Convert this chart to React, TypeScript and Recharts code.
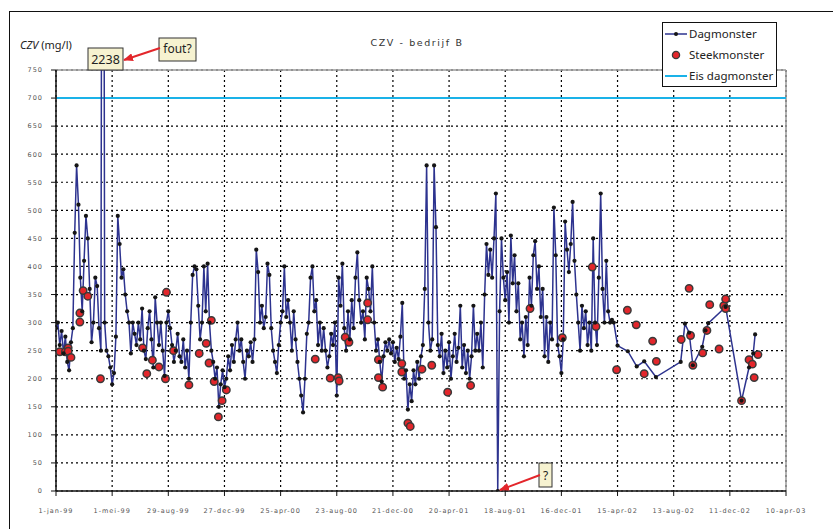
import React from "react";
import { ComposedChart, Line, Scatter, XAxis, YAxis, CartesianGrid, ReferenceLine, Legend } from "recharts";

// x = days since 1-jan-99, ticks every 120 days
const TICK_DAYS = [0, 120, 240, 360, 480, 600, 720, 840, 960, 1080, 1200, 1320, 1440, 1560];
const TICK_LABELS = ["1-jan-99", "1-mei-99", "29-aug-99", "27-dec-99", "25-apr-00", "23-aug-00", "21-dec-00", "20-apr-01", "18-aug-01", "16-dec-01", "15-apr-02", "13-aug-02", "11-dec-02", "10-apr-03"];
const Y_TICKS = [0, 50, 100, 150, 200, 250, 300, 350, 400, 450, 500, 550, 600, 650, 700, 750];
const EIS_DAG = 700;

const DAG_STEP = 4;
const dag1999 = [
  290, 300, 260, 285, 245, 275, 230, 215, 265, 290,
  460, 580, 510, 380, 320, 410, 490, 450, 360, 265,
  300, 380, 365, 290, 250, 2238, 300, 250, 240, 220,
  190, 210, 275, 490, 440, 380, 395, 350, 320, 300,
  245, 300, 280, 260, 300, 270, 325, 250, 235, 290,
  320, 270, 220, 345, 300, 260, 300, 250, 205, 300,
  320, 290, 260, 230, 250, 280, 240, 230, 270, 220,
  250, 200, 300, 385, 400,
];
const dag2000 = [
  395, 330, 270, 300, 400, 320, 405, 300, 250, 230,
  200, 220, 150, 190, 215, 185, 200, 240, 215, 260,
  230, 270, 300, 250, 270, 230, 200, 250, 240, 265,
  230, 270, 430, 390, 300, 330, 290, 310, 405, 385,
  290, 250, 230, 210, 260, 300, 320, 400, 310, 340,
  300, 250, 320, 270, 230, 200, 170, 140, 200, 280,
  300, 380, 400, 320, 340, 260, 300, 250, 290, 250,
  220, 240, 280, 260, 300,
];
const dag2001 = [
  170, 380, 330, 405, 290, 250, 320, 270, 340, 290,
  380, 425, 340, 300, 320, 270, 380, 360, 320, 400,
  300, 250, 270, 230, 195, 240, 265, 250, 270, 245,
  265, 230, 255, 235, 275, 335, 200, 215, 145, 190,
  160, 215, 190, 230, 200, 240, 260, 360, 580, 300,
  250, 270, 580, 470, 260, 240, 280, 210, 250, 220,
  265, 200, 240, 280, 230, 255, 330, 220, 260, 210,
  250, 200, 240, 330, 250,
];
const dag2002 = [
  280, 250, 300, 220, 350, 440, 385, 430, 380, 450,
  530, 0, 320, 450, 380, 340, 390, 300, 455, 370,
  420, 320, 370, 270, 300, 240, 310, 260, 380, 330,
  420, 445, 360, 400, 310, 360, 240, 310, 230, 300,
  270, 505, 420, 260, 240, 210, 270, 480, 430, 390,
  440, 515, 410, 350, 300, 250, 330, 290, 320, 260,
  300, 250, 450, 300, 260, 380, 530, 360, 300, 410,
  320, 300, 305, 300,
];
// sparse readings after mid-april 2002
const tailDays = [1200, 1222, 1241, 1257, 1282, 1335, 1344, 1353, 1361, 1381, 1388, 1394, 1431, 1465, 1481, 1490, 1494];
const tailValues = [259, 249, 222, 231, 203, 230, 298, 282, 224, 257, 286, 299, 328, 161, 220, 245, 279];

// steekmonster
const steekDays = [
  8, 20, 26, 26, 32, 51, 51, 58, 68, 95, 185, 194, 206, 220, 234, 236, 251, 284, 306, 321,
  327, 332, 338, 347, 355, 364, 554, 586, 603, 605, 618, 626, 666, 666, 689, 689, 698, 739, 739, 752,
  757, 782, 803, 837, 886, 1013, 1082, 1146, 1154, 1198, 1221, 1240, 1257, 1275, 1283, 1336, 1353, 1356, 1361, 1382,
  1391, 1397, 1417, 1427, 1431, 1431, 1465, 1481, 1488, 1492, 1500,
];
const steekValues = [
  248, 248, 255, 249, 238, 317, 301, 357, 347, 200, 255, 209, 233, 221, 200, 354, 250, 189, 245, 263,
  228, 304, 195, 132, 161, 180, 235, 201, 202, 196, 274, 265, 335, 305, 234, 202, 185, 227, 212, 121,
  115, 217, 224, 176, 188, 325, 273, 399, 293, 216, 322, 296, 209, 267, 231, 270, 361, 277, 224, 246,
  286, 332, 253, 330, 342, 325, 161, 234, 226, 202, 243,
];

const dagData = [
  ...[...dag1999, ...dag2000, ...dag2001, ...dag2002].map((v, i) => ({ day: i * DAG_STEP, czv: v })),
  ...tailDays.map((d, i) => ({ day: d, czv: tailValues[i] })),
];
const steekData = steekDays.map((d, i) => ({ day: d, czv: steekValues[i] }));

const BLUE = "#2d338f";
const RED = "#e3262b";
const CYAN = "#1ab2e8";
const tickFont = { fontSize: 6.5, fill: "#555", letterSpacing: 1, fontFamily: "'DejaVu Sans', sans-serif" };

const DagDot = (p: any) => <circle cx={p.cx} cy={p.cy} r={2.1} fill="#151515" />;
const SteekDot = (p: any) => <circle cx={p.cx} cy={p.cy} r={3.7} fill={RED} stroke="#3a3a3a" strokeWidth={1.5} />;

function LegendBox() {
  const row = { position: "absolute" as const, left: 2, display: "flex", alignItems: "center", gap: 2 };
  return (
    <div style={{ width: 115, height: 65, border: "1.5px solid #111", background: "#fff", boxSizing: "border-box", position: "relative", fontFamily: "'Noto Sans', sans-serif", fontSize: 11.5, color: "#222" }}>
      <div style={{ ...row, top: 3 }}>
        <svg width={22} height={12}><line x1={0} y1={6} x2={22} y2={6} stroke={BLUE} strokeWidth={1.5} /><circle cx={11} cy={6} r={2} fill="#151515" /></svg>
        <span>Dagmonster</span>
      </div>
      <div style={{ ...row, top: 24 }}>
        <svg width={22} height={12}><circle cx={11} cy={6} r={3.6} fill={RED} stroke="#3a3a3a" strokeWidth={1.3} /></svg>
        <span>Steekmonster</span>
      </div>
      <div style={{ ...row, top: 45 }}>
        <svg width={22} height={12}><line x1={0} y1={6} x2={22} y2={6} stroke={CYAN} strokeWidth={2} /></svg>
        <span>Eis dagmonster</span>
      </div>
    </div>
  );
}

export default function App() {
  return (
    <div style={{ position: "absolute", left: 0, top: 0, width: 833, height: 529, background: "#fff", overflow: "hidden" }}>
      <div style={{ position: "absolute", left: 9, top: 11, width: 1, height: 518, background: "#111" }} />
      <div style={{ position: "absolute", left: 9, top: 11, width: 824, height: 1, background: "#111" }} />
      <div style={{ position: "absolute", left: 20, top: 37, fontFamily: "'Noto Sans', sans-serif", fontSize: 11, color: "#222" }}>
        <i>CZV</i> (mg/l)
      </div>
      <div style={{ position: "absolute", left: 317, width: 200, top: 37, textAlign: "center", fontFamily: "'DejaVu Sans', sans-serif", fontSize: 9.5, letterSpacing: 1.6, color: "#333" }}>
        CZV - bedrijf B
      </div>
      <ComposedChart width={833} height={529} data={dagData} margin={{ top: 70, right: 47, bottom: 8, left: 10 }}>
        <CartesianGrid stroke="#000" strokeWidth={1.2} strokeDasharray="2 3" />
        <XAxis
          type="number"
          dataKey="day"
          domain={[0, 1560]}
          ticks={TICK_DAYS}
          interval={0}
          allowDataOverflow
          tickFormatter={(d: number) => TICK_LABELS[TICK_DAYS.indexOf(d)]}
          tick={tickFont}
          tickSize={5}
          tickMargin={12}
          height={30}
          axisLine={{ stroke: "#111", strokeWidth: 1.5 }}
          tickLine={{ stroke: "#111" }}
        />
        <YAxis
          type="number"
          domain={[0, 750]}
          ticks={Y_TICKS}
          interval={0}
          allowDataOverflow
          tick={tickFont}
          tickSize={5}
          tickMargin={8}
          width={46}
          axisLine={{ stroke: "#111", strokeWidth: 1.5 }}
          tickLine={{ stroke: "#111" }}
        />
        <ReferenceLine y={750} stroke="#999" strokeWidth={1.5} />
        <ReferenceLine x={1560} stroke="#999" strokeWidth={1.5} />
        <ReferenceLine y={EIS_DAG} stroke={CYAN} strokeWidth={2} />
        <Line data={dagData} dataKey="czv" type="linear" stroke={BLUE} strokeWidth={1.5} dot={<DagDot />} activeDot={false} isAnimationActive={false} legendType="none" />
        <Scatter data={steekData} dataKey="czv" shape={<SteekDot />} isAnimationActive={false} legendType="none" />
        <Legend layout="vertical" align="center" verticalAlign="middle" content={() => <LegendBox />} wrapperStyle={{ left: 662, top: 22, width: 115, height: 65 }} />
      </ComposedChart>
      <svg width={833} height={529} style={{ position: "absolute", left: 0, top: 0, pointerEvents: "none" }}>
        <defs>
          <marker id="ah" markerUnits="userSpaceOnUse" markerWidth={10} markerHeight={8} refX={9} refY={4} orient="auto">
            <path d="M0,0 L10,4 L0,8 z" fill="#e3262b" />
          </marker>
        </defs>
        <rect x={88} y={48} width={35} height={22} fill="#f6f2d0" stroke="#333" strokeWidth={1} />
        <text x={105.5} y={64} textAnchor="middle" fontFamily="'Noto Sans', sans-serif" fontSize={12.5} fill="#222">2238</text>
        <rect x={159} y={38} width={37} height={23} fill="#f6f2d0" stroke="#333" strokeWidth={1} />
        <text x={177.5} y={53} textAnchor="middle" fontFamily="'Noto Sans', sans-serif" fontSize={12} fill="#222">fout?</text>
        <line x1={160} y1={48} x2={124} y2={60} stroke="#e3262b" strokeWidth={2} markerEnd="url(#ah)" />
        <rect x={539} y={463} width={13} height={24} fill="#f6f2d0" stroke="#333" strokeWidth={1} />
        <text x={545.5} y={480} textAnchor="middle" fontFamily="'Noto Sans', sans-serif" fontSize={12} fill="#222">?</text>
        <line x1={540} y1={475} x2={500} y2={490} stroke="#e3262b" strokeWidth={2} markerEnd="url(#ah)" />
      </svg>
    </div>
  );
}
